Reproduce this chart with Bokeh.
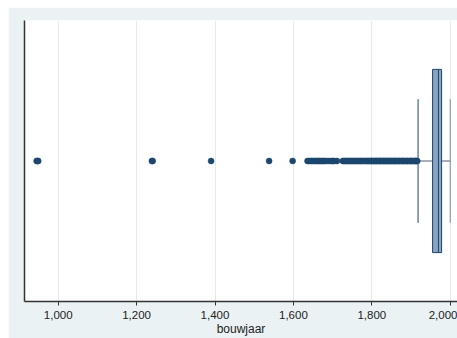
from bokeh.plotting import figure
from bokeh.models import FixedTicker, NumeralTickFormatter, Range1d
from bokeh.embed import file_html
from bokeh.resources import INLINE

# Data
variable = "bouwjaar"
x_ticks = [1000, 1200, 1400, 1600, 1800, 2000]
q1 = [1955]
median = [1970]
q3 = [1978]
whisker_low = [1918]
whisker_high = [2000]
outliers = [945, 947, 949, 1239, 1241, 1390, 1538, 1598, 1636, 1640, 1645,
            1648, 1652, 1656, 1660, 1663, 1666, 1670, 1673, 1676, 1680, 1684,
            1690, 1697, 1700, 1704, 1711, 1726, 1729, 1732, 1735, 1738, 1741,
            1744, 1747, 1750, 1753, 1756, 1759, 1762, 1765, 1768, 1771, 1774,
            1777, 1780, 1783, 1786, 1789, 1792, 1795, 1798, 1800, 1802, 1805,
            1808, 1810, 1812, 1815, 1818, 1820, 1822, 1825, 1828, 1830, 1832,
            1835, 1838, 1840, 1842, 1845, 1848, 1850, 1852, 1855, 1858, 1860,
            1862, 1865, 1868, 1870, 1872, 1875, 1878, 1880, 1882, 1885, 1888,
            1890, 1892, 1895, 1898, 1900, 1902, 1905, 1908, 1910, 1912, 1914,
            1916]

NAVY = "#1a476f"
BG = "#eaf2f3"

p = figure(width=449, height=331, margin=(7, 0, 0, 8),
           output_backend="svg", toolbar_location=None,
           x_range=Range1d(914, 2018.6), y_range=Range1d(0, 1),
           min_border_left=16, min_border_right=0, min_border_top=13,
           min_border_bottom=37)
p.background_fill_color = "white"
p.border_fill_color = BG
p.outline_line_color = None

yc = 0.5
box_h = 0.652
cap_h = 0.44

# whisker lines
p.segment(x0=whisker_low, y0=[yc], x1=q1, y1=[yc], line_color="#50657a", line_width=1)
p.segment(x0=q3, y0=[yc], x1=whisker_high, y1=[yc], line_color="#50657a", line_width=1)
# caps
p.segment(x0=whisker_low, y0=[yc - cap_h / 2], x1=whisker_low, y1=[yc + cap_h / 2],
          line_color=NAVY, line_width=1)
p.segment(x0=whisker_high, y0=[yc - cap_h / 2], x1=whisker_high, y1=[yc + cap_h / 2],
          line_color="#7d8a96", line_width=1)
# box
p.quad(left=q1, right=q3, bottom=[yc - box_h / 2], top=[yc + box_h / 2],
       fill_color="#8ba3c0", line_color=NAVY, line_width=1)
p.segment(x0=median, y0=[yc - box_h / 2], x1=median, y1=[yc + box_h / 2],
          line_color=NAVY, line_width=1)
# outliers
p.scatter(x=outliers, y=[yc] * len(outliers), size=6, marker="circle",
          fill_color=NAVY, line_color=NAVY, line_width=0.5)

# axes
xa = p.xaxis[0]
xa.ticker = FixedTicker(ticks=x_ticks)
xa.formatter = NumeralTickFormatter(format="0,0")
xa.axis_label = variable
xa.axis_label_text_font = "Liberation Sans"
xa.axis_label_text_font_style = "normal"
xa.axis_label_text_font_size = "12px"
xa.axis_label_text_color = "#222222"
xa.axis_label_standoff = 0
xa.major_label_text_font = "Liberation Sans"
xa.major_label_text_font_size = "11.5px"
xa.major_label_text_color = "#222222"
xa.major_label_standoff = 5
xa.major_tick_in = 0
xa.major_tick_out = 4
xa.minor_tick_in = 0
xa.minor_tick_out = 0
xa.axis_line_color = "#333333"
xa.axis_line_width = 1.5
xa.major_tick_line_color = "#333333"

ya = p.yaxis[0]
ya.ticker = FixedTicker(ticks=[])
ya.major_tick_in = 0
ya.major_tick_out = 0
ya.minor_tick_in = 0
ya.minor_tick_out = 0
ya.axis_line_color = "#333333"
ya.axis_line_width = 1.5

p.xgrid.grid_line_color = "#e4eaed"
p.xgrid.grid_line_width = 1
p.ygrid.grid_line_color = None

open("out.html", "w").write(file_html(p, INLINE))
